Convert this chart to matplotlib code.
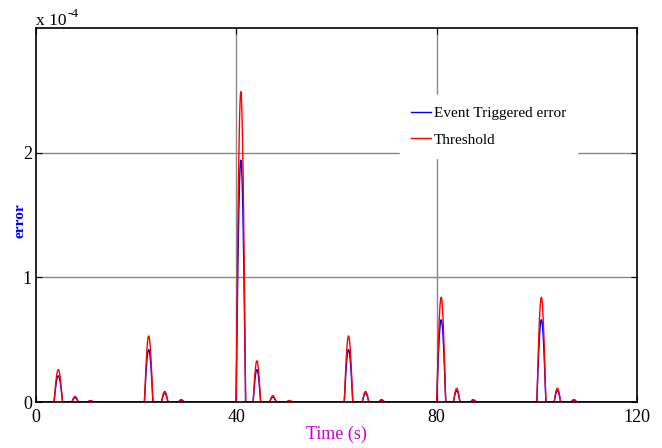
import numpy as np
import matplotlib
matplotlib.use("Agg")
import matplotlib.pyplot as plt

# Pulse data (units of 1e-4)
pulse_center = [4.45, 7.8, 10.9, 22.5, 25.7, 29.0, 40.9, 44.1, 47.3, 50.6,
                62.4, 65.8, 69.0, 80.9, 84.0, 87.3, 100.9, 104.1, 107.4]
pulse_width = [1.7, 1.3, 1.1, 1.7, 1.3, 1.1, 1.9, 1.5, 1.3, 1.1,
               1.7, 1.3, 1.1, 1.8, 1.3, 1.1, 1.8, 1.3, 1.1]
error_peak = [0.21, 0.035, 0.01, 0.42, 0.07, 0.015, 1.94, 0.26, 0.04, 0.01,
              0.42, 0.07, 0.015, 0.66, 0.09, 0.015, 0.66, 0.09, 0.015]
threshold_peak = [0.26, 0.045, 0.012, 0.53, 0.085, 0.02, 2.49, 0.33, 0.05, 0.012,
                  0.53, 0.085, 0.02, 0.84, 0.11, 0.02, 0.84, 0.11, 0.02]

x_ticks = [0, 40, 80, 120]
y_ticks = [0, 1, 2]

t = np.linspace(0, 120, 6001)
err = np.zeros_like(t)
thr = np.zeros_like(t)
for c, w, e, h in zip(pulse_center, pulse_width, error_peak, threshold_peak):
    m = np.abs(t - c) < w / 2
    shape = np.cos(np.pi * (t[m] - c) / w)
    err[m] = e * shape
    thr[m] = h * shape

serif = 'Liberation Serif'
fig = plt.figure(figsize=(6.62, 4.48), dpi=100)
ax = fig.add_axes([36/662, 46/448, (637-36)/662, (402-28)/448])
ax.plot(t, err, color='#0000ff', lw=1.0, label='Event Triggered error')
ax.plot(t, thr, color='#ff0000', lw=1.0, label='Threshold')
ax.set_xlim(0, 120)
ax.set_ylim(0, 3)
ax.set_xticks(x_ticks)
ax.set_yticks(y_ticks)
ax.set_xticklabels([str(v) for v in x_ticks], family=serif, fontsize=13)
ax.set_yticklabels([str(v) for v in y_ticks], family=serif, fontsize=13)
ax.tick_params(direction='in', length=4, top=True, right=True)
ax.tick_params(axis='x', pad=5)
ax.tick_params(axis='y', pad=3)
for v in [40, 80]:
    ax.axvline(v, color='#888888', lw=1.0, zorder=0)
for v in [1, 2]:
    ax.axhline(v, color='#888888', lw=1.0, zorder=0)
for s in ax.spines.values():
    s.set_linewidth(1.2)
ax.set_xlabel('Time (s)', color='#cc00cc', family=serif, fontsize=13)
ax.xaxis.set_label_coords((336-36)/601, -(426-402)/374)
ax.set_ylabel('error', color='#0000ff', family=serif, fontsize=11, fontweight='bold')
ax.yaxis.set_label_coords(-(36-26)/601, (402-221)/374)
t1 = fig.text(36/662, 1 - 25/448, 'x 10', family=serif, fontsize=12.5, ha='left', va='baseline')
ax.annotate('-4', xy=(1.0, 0.55), xycoords=t1, xytext=(1, 0), textcoords='offset points',
            family=serif, fontsize=9.5, ha='left', va='bottom', annotation_clip=False)
leg = ax.legend(loc='upper left', bbox_to_anchor=((400-36)/601, (402-95)/374), frameon=True,
                prop={'family': serif, 'size': 11}, handlelength=1.3,
                handletextpad=0.15, borderaxespad=0, borderpad=0.75, labelspacing=0.85)
leg.get_frame().set_edgecolor('white')
leg.get_frame().set_facecolor('white')
leg.get_frame().set_alpha(1)
fig.savefig('out.png', dpi=100)
